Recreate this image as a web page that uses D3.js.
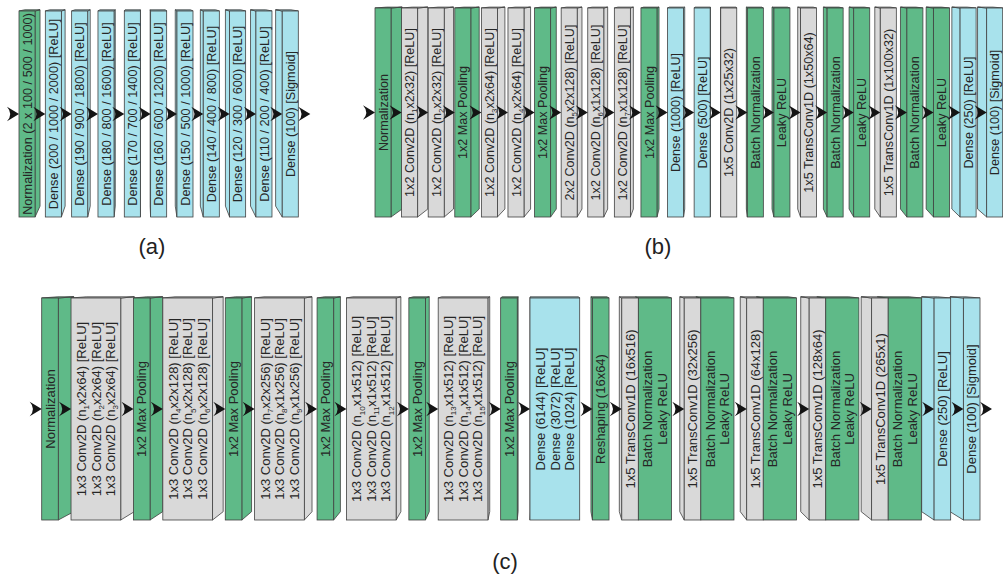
<!DOCTYPE html>
<html>
<head>
<meta charset="utf-8">
<script src="https://cdn.jsdelivr.net/npm/d3@7"></script>
<style>
  html, body { margin: 0; padding: 0; background: #ffffff; }
  svg { display: block; }
</style>
</head>
<body>
<svg id="fig" width="1003" height="577"></svg>
<script>
// ---------------------------------------------------------------
// Network architectures (a), (b), (c).
// "_N" inside a label marks a subscript index (n_1 -> n with subscript 1).
// ---------------------------------------------------------------

// (a) fully connected network
const archA_kinds = ["norm", "dense", "dense", "dense", "dense", "dense",
                     "dense", "dense", "dense", "dense", "dense"];
const archA_labels = [
  "Normalization (2 x 100 / 500 / 1000)",
  "Dense (200 / 1000 / 2000) [ReLU]",
  "Dense (190 / 900 / 1800) [ReLU]",
  "Dense (180 / 800 / 1600) [ReLU]",
  "Dense (170 / 700 / 1400) [ReLU]",
  "Dense (160 / 600 / 1200) [ReLU]",
  "Dense (150 / 500 / 1000) [ReLU]",
  "Dense (140 / 400 / 800) [ReLU]",
  "Dense (120 / 300 / 600) [ReLU]",
  "Dense (110 / 200 / 400) [ReLU]",
  "Dense (100) [Sigmoid]"
];

// (b) small convolutional encoder / transposed-convolution decoder
const archB_kinds = ["norm", "conv", "conv", "norm", "conv", "conv", "norm", "conv",
                     "conv", "conv", "norm", "dense", "dense", "conv", "norm", "norm",
                     "conv", "norm", "norm", "conv", "norm", "norm", "dense", "dense"];
const archB_labels = [
  "Normalization",
  "1x2 Conv2D (n_1x2x32) [ReLU]",
  "1x2 Conv2D (n_2x2x32) [ReLU]",
  "1x2 Max Pooling",
  "1x2 Conv2D (n_3x2x64) [ReLU]",
  "1x2 Conv2D (n_4x2x64) [ReLU]",
  "1x2 Max Pooling",
  "2x2 Conv2D (n_5x2x128) [ReLU]",
  "1x2 Conv2D (n_6x1x128) [ReLU]",
  "1x2 Conv2D (n_7x1x128) [ReLU]",
  "1x2 Max Pooling",
  "Dense (1000) [ReLU]",
  "Dense (500) [ReLU]",
  "1x5 Conv2D (1x25x32)",
  "Batch Normalization",
  "Leaky ReLU",
  "1x5 TransConv1D (1x50x64)",
  "Batch Normalization",
  "Leaky ReLU",
  "1x5 TransConv1D (1x100x32)",
  "Batch Normalization",
  "Leaky ReLU",
  "Dense (250) [ReLU]",
  "Dense (100) [Sigmoid]"
];

// (c) deep convolutional network: each block groups one or more layers
const archC_blocks = [
  [{kind: "norm",  lines: ["Normalization"]}],
  [{kind: "conv",  lines: ["1x3 Conv2D (n_1x2x64) [ReLU]", "1x3 Conv2D (n_2x2x64) [ReLU]", "1x3 Conv2D (n_3x2x64) [ReLU]"]}],
  [{kind: "norm",  lines: ["1x2 Max Pooling"]}],
  [{kind: "conv",  lines: ["1x3 Conv2D (n_4x2x128) [ReLU]", "1x3 Conv2D (n_5x2x128) [ReLU]", "1x3 Conv2D (n_6x2x128) [ReLU]"]}],
  [{kind: "norm",  lines: ["1x2 Max Pooling"]}],
  [{kind: "conv",  lines: ["1x3 Conv2D (n_7x2x256) [ReLU]", "1x3 Conv2D (n_8x1x256) [ReLU]", "1x3 Conv2D (n_9x1x256) [ReLU]"]}],
  [{kind: "norm",  lines: ["1x2 Max Pooling"]}],
  [{kind: "conv",  lines: ["1x3 Conv2D (n_10x1x512) [ReLU]", "1x3 Conv2D (n_11x1x512) [ReLU]", "1x3 Conv2D (n_12x1x512) [ReLU]"]}],
  [{kind: "norm",  lines: ["1x2 Max Pooling"]}],
  [{kind: "conv",  lines: ["1x3 Conv2D (n_13x1x512) [ReLU]", "1x3 Conv2D (n_14x1x512) [ReLU]", "1x3 Conv2D (n_15x1x512) [ReLU]"]}],
  [{kind: "norm",  lines: ["1x2 Max Pooling"]}],
  [{kind: "dense", lines: ["Dense (6144) [ReLU]", "Dense (3072) [ReLU]", "Dense (1024) [ReLU]"]}],
  [{kind: "norm",  lines: ["Reshaping (16x64)"]}],
  [{kind: "conv",  lines: ["1x5 TransConv1D (16x516)"]},  {kind: "norm", lines: ["Batch Normalization", "Leaky ReLU"]}],
  [{kind: "conv",  lines: ["1x5 TransConv1D (32x256)"]},  {kind: "norm", lines: ["Batch Normalization", "Leaky ReLU"]}],
  [{kind: "conv",  lines: ["1x5 TransConv1D (64x128)"]},  {kind: "norm", lines: ["Batch Normalization", "Leaky ReLU"]}],
  [{kind: "conv",  lines: ["1x5 TransConv1D (128x64)"]},  {kind: "norm", lines: ["Batch Normalization", "Leaky ReLU"]}],
  [{kind: "conv",  lines: ["1x5 TransConv1D (265x1)"]},   {kind: "norm", lines: ["Batch Normalization", "Leaky ReLU"]}],
  [{kind: "dense", lines: ["Dense (250) [ReLU]"]}],
  [{kind: "dense", lines: ["Dense (100) [Sigmoid]"]}]
];

const panelTags = ["(a)", "(b)", "(c)"];

// ---------------------------------------------------------------
// Styling
// ---------------------------------------------------------------
const fillOf = d3.scaleOrdinal()
  .domain(["norm", "dense", "conv"])
  .range(["#5fba88", "#a8e2ec", "#d9d9d9"]);
const EDGE = "#404040";
const INK = "#262626";
const FONT = "'Liberation Sans', Arial, Helvetica, sans-serif";

const svg = d3.select("#fig");

// single-layer blocks for (a) and (b)
const asBlocks = (kinds, labels) =>
  kinds.map((k, i) => [{kind: k, lines: [labels[i]]}]);

// panel geometry: horizontal extent, face top/bottom, gap between blocks
// (in block-width units) and a vanishing point for the depth faces
const panels = [
  {blocks: asBlocks(archA_kinds, archA_labels), x: [19, 298.3], y: [11, 217],
   gap: 0.64, vp: [141, -15], depth: 0.047, font: 12.7, line: 14.5,
   tag: [152, 254]},
  {blocks: asBlocks(archB_kinds, archB_labels), x: [375, 1002.7], y: [8, 217],
   gap: 0.66, vp: [718, -18], depth: 0.034, font: 12.6, line: 14.5,
   tag: [658, 254]},
  {blocks: archC_blocks, x: [41.7, 980], y: [298, 520],
   gap: 0.77, vp: [545, 260], depth: 0.032, font: 13, line: 14.5,
   tag: [505, 569]}
];

// arrowhead with a concave tail, tip at the origin
const ARROW_L = 12, ARROW_H = 7.3;
const arrowPath = d3.path();
arrowPath.moveTo(0, 0);
arrowPath.lineTo(-ARROW_L, -ARROW_H);
arrowPath.quadraticCurveTo(-ARROW_L + 6.5, 0, -ARROW_L, ARROW_H);
arrowPath.closePath();

// draws a label whose "_N" parts become subscripts
function writeLabel(sel, text, fs) {
  const parts = text.split(/_(\d+)/);
  let shifted = false;
  parts.forEach((p, i) => {
    if (p === "") return;
    const isSub = i % 2 === 1;
    const t = sel.append("tspan").text(p);
    if (isSub) {
      t.attr("font-size", fs * 0.62).attr("dy", fs * 0.25);
      shifted = true;
    } else if (shifted) {
      t.attr("dy", -fs * 0.25);
      shifted = false;
    }
  });
}

panels.forEach((P, pi) => {
  const g = svg.append("g");
  const units = P.blocks.map(b => d3.sum(b, s => s.lines.length));
  const total = d3.sum(units) + P.gap * (P.blocks.length - 1);
  const xs = d3.scaleLinear().domain([0, total]).range(P.x);
  const [top, bot] = P.y;
  const [vx, vy] = P.vp;
  const back = (x, y) => [x + P.depth * (vx - x), y + P.depth * (vy - y)];

  // lay the blocks out along the unit axis
  let cursor = 0;
  const laid = P.blocks.map((segs, bi) => {
    const start = cursor;
    let u = start;
    const segments = segs.map(s => {
      const seg = {kind: s.kind, lines: s.lines, x0: xs(u), x1: xs(u + s.lines.length)};
      u += s.lines.length;
      return seg;
    });
    cursor = u + P.gap;
    return {segments, x0: xs(start), x1: xs(u)};
  });

  // far-from-centre blocks first so nearer ones cover their depth faces
  const order = laid.slice().sort((a, b) =>
    Math.abs((b.x0 + b.x1) / 2 - vx) - Math.abs((a.x0 + a.x1) / 2 - vx));

  const poly = pts => "M" + pts.map(p => p.join(",")).join("L") + "Z";

  order.forEach(B => {
    const bg = g.append("g");
    const mid = (B.x0 + B.x1) / 2;
    // side face toward the vanishing point
    if (mid < vx) {
      const seg = B.segments[B.segments.length - 1];
      bg.append("path")
        .attr("d", poly([[B.x1, top], back(B.x1, top), back(B.x1, bot), [B.x1, bot]]))
        .attr("fill", fillOf(seg.kind)).attr("stroke", EDGE).attr("stroke-width", 0.8)
        .attr("stroke-linejoin", "round");
    } else {
      const seg = B.segments[0];
      bg.append("path")
        .attr("d", poly([[B.x0, top], back(B.x0, top), back(B.x0, bot), [B.x0, bot]]))
        .attr("fill", fillOf(seg.kind)).attr("stroke", EDGE).attr("stroke-width", 0.8)
        .attr("stroke-linejoin", "round");
    }
    // top faces
    B.segments.forEach(s => {
      bg.append("path")
        .attr("d", poly([[s.x0, top], [s.x1, top], back(s.x1, top), back(s.x0, top)]))
        .attr("fill", fillOf(s.kind)).attr("stroke", EDGE).attr("stroke-width", 0.8)
        .attr("stroke-linejoin", "round");
    });
    // front faces with rotated labels
    B.segments.forEach(s => {
      bg.append("rect")
        .attr("x", s.x0).attr("y", top)
        .attr("width", s.x1 - s.x0).attr("height", bot - top)
        .attr("fill", fillOf(s.kind)).attr("stroke", EDGE).attr("stroke-width", 0.8);
      const cx = (s.x0 + s.x1) / 2, cy = (top + bot) / 2;
      const n = s.lines.length;
      s.lines.forEach((ln, li) => {
        const off = (li - (n - 1) / 2) * P.line;
        const t = bg.append("text")
          .attr("transform", `translate(${cx + off},${cy}) rotate(-90)`)
          .attr("text-anchor", "middle")
          .attr("y", P.font * 0.36)
          .attr("font-family", FONT)
          .attr("font-size", P.font)
          .attr("fill", INK);
        writeLabel(t, ln, P.font);
      });
    });
  });

  // arrows: into each block's front face, and one out of the last block
  const ay = (top + bot) / 2;
  const tips = laid.map(B => B.x0).concat([laid[laid.length - 1].x1 + ARROW_L]);
  g.selectAll("path.arrow").data(tips).join("path")
    .attr("class", "arrow")
    .attr("d", arrowPath.toString())
    .attr("transform", d => `translate(${d},${ay})`)
    .attr("fill", "#141414");

  svg.append("text")
    .attr("x", P.tag[0]).attr("y", P.tag[1])
    .attr("text-anchor", "middle")
    .attr("font-family", FONT)
    .attr("font-size", 22)
    .attr("fill", "#222")
    .text(panelTags[pi]);
});
</script>
</body>
</html>
